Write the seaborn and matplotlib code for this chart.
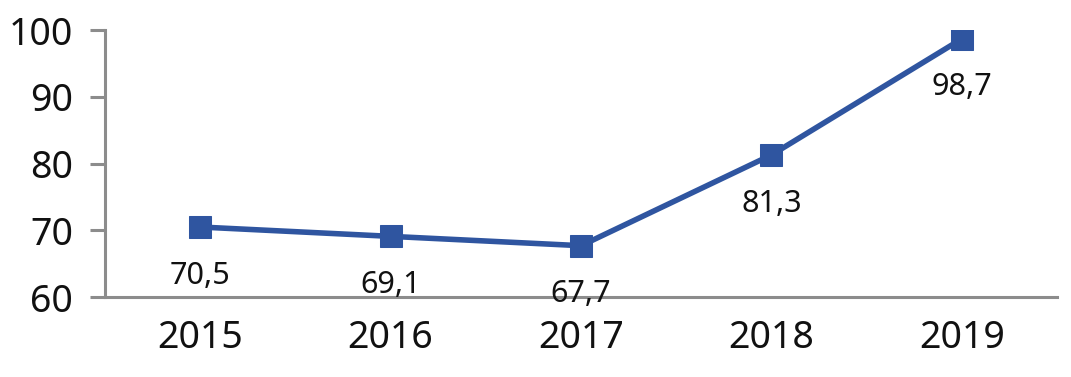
import matplotlib
matplotlib.use("Agg")
import matplotlib.pyplot as plt
import seaborn as sns
import pandas as pd

# 연도별 지수
years = ['2015', '2016', '2017', '2018', '2019']
values = [70.5, 69.1, 67.7, 81.3, 98.7]
labels = ['70,5', '69,1', '67,7', '81,3', '98,7']

df = pd.DataFrame({'year': years, 'value': values})

sns.set_style('white')
plt.rcParams['font.family'] = ['Noto Sans', 'DejaVu Sans']

fig = plt.figure(figsize=(10.71, 3.77), dpi=100)
ax = fig.add_axes([0.098, 0.212, 0.889, 0.708])

color = '#2F55A0'
sns.lineplot(data=df, x='year', y='value', ax=ax, color=color, linewidth=4,
             marker='s', markersize=16, markeredgecolor=color, sort=False)

for i, (v, t) in enumerate(zip(values, labels)):
    ax.annotate(t, (i, v), xytext=(0, -35), textcoords='offset points',
                ha='center', va='center', fontsize=22, color='#111111')

ax.set_xlim(-0.5, len(years) - 0.5)
ax.set_ylim(60, 100)
ax.set_yticks([60, 70, 80, 90, 100])
ax.set_xticks(range(len(years)))
ax.set_xticklabels(years)
ax.set_xlabel('')
ax.set_ylabel('')

# 카테고리 사이 눈금
ax.set_xticks([i - 0.5 for i in range(len(years) + 1)], minor=True)
ax.tick_params(axis='x', which='major', length=0, pad=16, labelsize=27, colors='#111111')
ax.tick_params(axis='x', which='minor', length=11, width=2.2, color='#8c8c8c', direction='out')
ax.tick_params(axis='y', length=11, width=2.2, color='#8c8c8c', labelsize=27,
               labelcolor='#111111', pad=12, left=True)

for s in ['top', 'right']:
    ax.spines[s].set_visible(False)
for s in ['left', 'bottom']:
    ax.spines[s].set_color('#8c8c8c')
    ax.spines[s].set_linewidth(2.2)

fig.savefig('out.png', dpi=100)
